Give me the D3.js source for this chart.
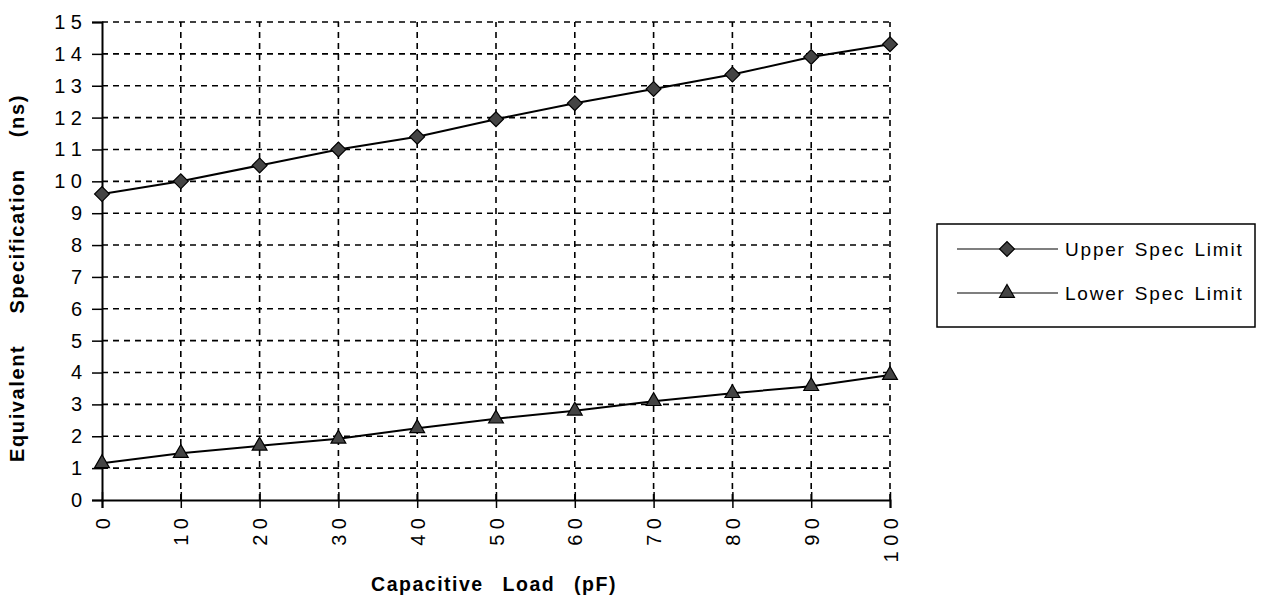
<!DOCTYPE html>
<html><head><meta charset="utf-8">
<script src="https://cdn.jsdelivr.net/npm/d3@7"></script>
<style>body{margin:0;background:#fff;} svg{display:block;}</style>
</head><body>
<script>
const loads = [0,10,20,30,40,50,60,70,80,90,100];
const upperSpec = [9.6,10.0,10.5,11.0,11.4,11.95,12.45,12.9,13.35,13.9,14.3];
const lowerSpec = [1.15,1.47,1.7,1.92,2.25,2.55,2.8,3.1,3.35,3.57,3.92];
const yTicks = [0,1,2,3,4,5,6,7,8,9,10,11,12,13,14,15];
const xTicks = [0,10,20,30,40,50,60,70,80,90,100];
const seriesNames = ["Upper Spec Limit","Lower Spec Limit"];

const W=1263,H=604;
const svg=d3.select("body").append("svg").attr("width",W).attr("height",H);
const x=d3.scaleLinear().domain([0,100]).range([102,890]);
const y=d3.scaleLinear().domain([0,15]).range([500,22]);
const font="'Liberation Sans', Arial, sans-serif";

// grid
const g=svg.append("g");
g.selectAll(".hg").data(yTicks.filter(d=>d>0)).join("line")
 .attr("x1",x(0)).attr("x2",x(100)).attr("y1",d=>y(d)).attr("y2",d=>y(d))
 .attr("stroke","#000").attr("stroke-width",1.6).attr("stroke-dasharray","6,5");
g.selectAll(".vg").data(xTicks.filter(d=>d>0)).join("line")
 .attr("x1",d=>x(d)).attr("x2",d=>x(d)).attr("y1",y(0)).attr("y2",y(15))
 .attr("stroke","#000").attr("stroke-width",1.6).attr("stroke-dasharray","6,5");

// axes
const yAxis=d3.axisLeft(y).tickValues(yTicks).tickSize(10).tickPadding(10)
  .tickFormat(d=>String(d).split("").join(" "));
const ya=svg.append("g").attr("transform",`translate(${x(0)},0)`).call(yAxis);
ya.select(".domain").attr("stroke","#000").attr("stroke-width",2);
ya.selectAll(".tick line").attr("stroke","#000").attr("stroke-width",1.5);
ya.selectAll("text").attr("font-family",font).attr("font-size",20).attr("fill","#000");

const xAxis=d3.axisBottom(x).tickValues(xTicks).tickSize(8).tickPadding(0)
  .tickFormat(d=>String(d).split("").join(" "));
const xa=svg.append("g").attr("transform",`translate(0,${y(0)})`).call(xAxis);
xa.select(".domain").attr("stroke","#000").attr("stroke-width",2);
xa.selectAll(".tick line").attr("stroke","#000").attr("stroke-width",1.5).attr("y1",-8).attr("y2",8);
xa.selectAll("text").attr("font-family",font).attr("font-size",20).attr("fill","#000")
  .attr("transform","translate(0,18) rotate(-90)").attr("text-anchor","end")
  .attr("dy","0.35em").attr("y",0).attr("x",0);

// lines & markers
const line=d3.line().x((d,i)=>x(loads[i])).y(d=>y(d));
const data=[upperSpec,lowerSpec];
const shapes=[d3.symbolSquare,d3.symbolTriangle];
const sizes=[110,95];
const rot=[45,0];
data.forEach((s,k)=>{
  svg.append("path").datum(s).attr("d",line).attr("fill","none").attr("stroke","#000").attr("stroke-width",2);
  svg.append("g").selectAll("path").data(s).join("path")
    .attr("transform",(d,i)=>`translate(${x(loads[i])},${y(d)}) rotate(${rot[k]})`)
    .attr("d",d3.symbol().type(shapes[k]).size(sizes[k]))
    .attr("fill","#444").attr("stroke","#000").attr("stroke-width",1.2);
});

// axis titles
svg.append("text").attr("x",494).attr("y",591).attr("text-anchor","middle")
 .attr("font-family",font).attr("font-weight","bold").attr("font-size",19.5)
 .attr("word-spacing","12px").attr("letter-spacing","1.5px").text("Capacitive Load (pF)");
svg.append("text").attr("transform","translate(24,278) rotate(-90)").attr("text-anchor","middle")
 .attr("font-family",font).attr("font-weight","bold").attr("font-size",20)
 .attr("word-spacing","24px").attr("letter-spacing","1.6px").text("Equivalent Specification (ns)");

// legend
const lg=svg.append("g");
lg.append("rect").attr("x",937).attr("y",224).attr("width",318).attr("height",103)
 .attr("fill","#fff").attr("stroke","#000").attr("stroke-width",1.5);
seriesNames.forEach((n,k)=>{
  const ly=249+k*44;
  lg.append("line").attr("x1",957).attr("x2",1058).attr("y1",ly).attr("y2",ly).attr("stroke","#000").attr("stroke-width",1.2);
  lg.append("path").attr("transform",`translate(1007,${ly}) rotate(${rot[k]})`).attr("d",d3.symbol().type(shapes[k]).size(sizes[k]))
    .attr("fill","#444").attr("stroke","#000").attr("stroke-width",1.2);
  lg.append("text").attr("x",1065).attr("y",ly).attr("dy","0.35em").attr("font-family",font)
    .attr("font-size",19).attr("letter-spacing","1.8px").attr("word-spacing","2px").attr("fill","#000").text(n);
});
</script>
</body></html>
